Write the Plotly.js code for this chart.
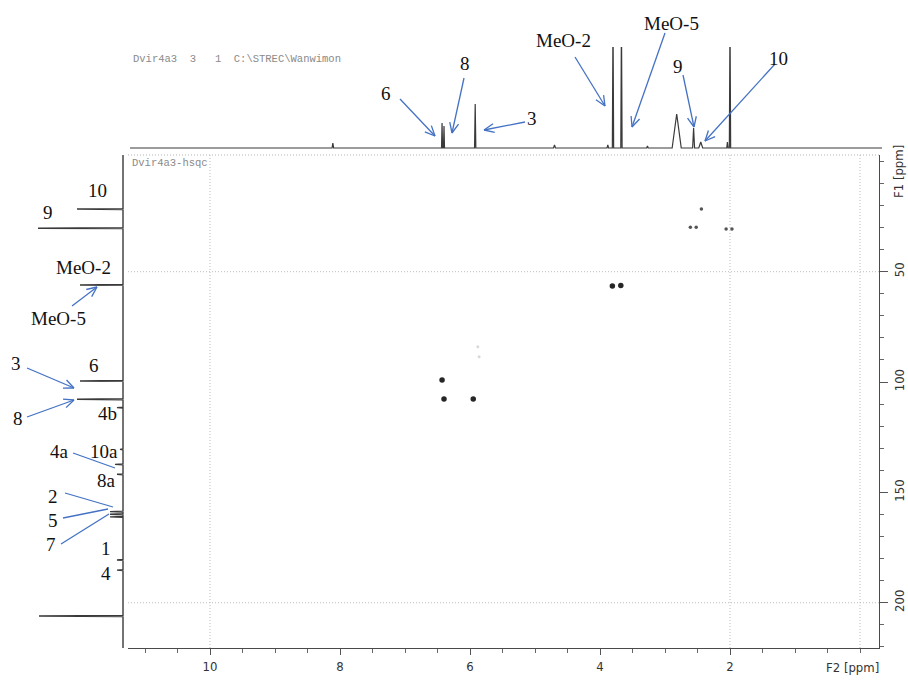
<!DOCTYPE html>
<html>
<head>
<meta charset="utf-8">
<script src="https://cdn.plot.ly/plotly-3.0.1.min.js"></script>
<style>
  html, body { margin: 0; padding: 0; background: #fff; }
  #chart { width: 908px; height: 691px; }
</style>
</head>
<body>
<div id="chart"></div>
<script>
// ---- 1H projection (F2 axis): shift [ppm], height, half width [ppm]
const protonShift  = [8.11, 6.43, 6.40, 5.92, 4.70, 3.88, 3.80, 3.67, 3.27, 2.82, 2.56, 2.45, 2.04, 2.00];
const protonHeight = [5, 25, 22, 44, 3, 3, 130, 130, 2, 34, 20, 6, 6, 130];
const protonWidth  = [0.012, 0.008, 0.008, 0.01, 0.015, 0.012, 0.01, 0.01, 0.012, 0.07, 0.015, 0.03, 0.01, 0.01];

// ---- 13C projection (F1 axis): shift [ppm], height
const carbonShift  = [21.6, 30.3, 56.0, 99.5, 107.8, 111.6, 130.5, 137.3, 141.8, 158.7, 159.9, 161.1, 180.6, 185.2, 206.0];
const carbonHeight = [46, 85, 43, 43, 46, 6, 3, 8, 6, 13, 13, 13, 6, 6, 84];

// ---- HSQC correlations (F2 = 1H, F1 = 13C)
const hsqcRoundH = [3.81, 3.68, 6.43, 6.40, 5.95];
const hsqcRoundC = [56.5, 56.2, 99.1, 107.7, 107.7];
const hsqcSmallH = [2.44, 2.61, 2.52, 2.06, 1.97];
const hsqcSmallC = [21.6, 29.9, 29.9, 30.7, 30.7];
const hsqcFaintH = [5.88, 5.86];
const hsqcFaintC = [84.0, 88.5];

// ---- axis ticks and dotted grid positions
const f2Ticks = [10, 8, 6, 4, 2];
const f1Ticks = [50, 100, 150, 200];
const f2Grid = [10, 2, 0];
const f1Grid = [50, 200];

// ---- page geometry helpers (pixel -> paper)
const W = 908, H = 691;
const px = x => x / W;
const py = y => 1 - y / H;
// F2 scale: 10 ppm at x=210, 65 px per ppm
const f2At = x => 10 - (x - 210) / 65;
// F1 scale: 50 ppm at y=271.7, 2.207 px per ppm
const f1At = y => 50 + (y - 271.7) / 2.207;

function buildSpectrum(shifts, heights, widths, lo, hi) {
  const idx = shifts.map((_, i) => i).sort((a, b) => shifts[a] - shifts[b]);
  const pos = [lo], inten = [0];
  idx.forEach(i => {
    const w = Array.isArray(widths) ? widths[i] : widths;
    pos.push(shifts[i] - w, shifts[i], shifts[i] + w);
    inten.push(0, heights[i], 0);
  });
  pos.push(hi); inten.push(0);
  return { pos, inten };
}

const xRange = [f2At(128), f2At(879)];
const topRange = [f2At(130), f2At(882)];
const protonLine = buildSpectrum(protonShift, protonHeight, protonWidth, topRange[1], topRange[0]);
const yRange = [f1At(648), f1At(155)];
const carbonLine = buildSpectrum(carbonShift, carbonHeight, 0.2, yRange[1], yRange[0]);

const specColor = '#3a3a3a';
const traces = [
  { type: 'scatter', mode: 'lines', x: protonLine.pos, y: protonLine.inten,
    xaxis: 'x2', yaxis: 'y2', line: { color: specColor, width: 1.2 }, hoverinfo: 'skip' },
  { type: 'scatter', mode: 'lines', x: carbonLine.inten, y: carbonLine.pos,
    xaxis: 'x3', yaxis: 'y3', line: { color: specColor, width: 1.4 }, hoverinfo: 'skip' },
  { type: 'scatter', mode: 'markers', x: hsqcRoundH, y: hsqcRoundC, xaxis: 'x', yaxis: 'y',
    marker: { color: '#262626', size: 5.5, symbol: 'circle' }, hoverinfo: 'skip' },
  { type: 'scatter', mode: 'markers', x: hsqcSmallH, y: hsqcSmallC, xaxis: 'x', yaxis: 'y',
    marker: { color: '#555', size: 3.5, symbol: 'circle' }, hoverinfo: 'skip' },
  { type: 'scatter', mode: 'markers', x: hsqcFaintH, y: hsqcFaintC, xaxis: 'x', yaxis: 'y',
    marker: { color: '#d8d8d8', size: 3, symbol: 'circle' }, hoverinfo: 'skip' }
];

// ---- annotation graphics
const blue = 'rgb(68,114,196)';
const gridColor = '#bdbdbd';
function seg(x0, y0, x1, y1, color, width, dash) {
  return { type: 'line', xref: 'paper', yref: 'paper', layer: 'above',
    x0: px(x0), y0: py(y0), x1: px(x1), y1: py(y1),
    line: { color: color, width: width, dash: dash || 'solid' } };
}
function arrow(tx, ty, hx, hy) {
  const ang = Math.atan2(hy - ty, hx - tx), L = 11, a = 0.42;
  return [
    seg(tx, ty, hx, hy, blue, 1.3),
    seg(hx, hy, hx - L * Math.cos(ang - a), hy - L * Math.sin(ang - a), blue, 1.3),
    seg(hx, hy, hx - L * Math.cos(ang + a), hy - L * Math.sin(ang + a), blue, 1.3)
  ];
}
const gridShapes = [].concat(
  f2Grid.map(v => ({ type: 'line', xref: 'x', yref: 'paper', layer: 'below',
    x0: v, x1: v, y0: py(648), y1: py(155), line: { color: gridColor, width: 1, dash: '1px,2px' } })),
  f1Grid.map(v => ({ type: 'line', xref: 'paper', yref: 'y', layer: 'below',
    x0: px(128), x1: px(879), y0: v, y1: v, line: { color: gridColor, width: 1, dash: '1px,2px' } }))
);
const shapes = [].concat(
  gridShapes,
  // dotted upper frame of the 2D panel
  [seg(128, 155, 879, 155, '#b5b5b5', 1, '1px,2px')],
  arrow(400, 99, 435, 136),
  arrow(464, 78, 452, 133),
  arrow(525, 122, 484, 130),
  arrow(575, 57, 605, 106),
  arrow(665, 33, 632, 127),
  arrow(683, 75, 694, 127),
  arrow(775, 64, 705, 141),
  arrow(72, 306, 97, 287),
  arrow(27, 368, 74, 388),
  arrow(27, 417, 74, 400),
  [seg(73, 453, 115, 468, blue, 1.3),
   seg(65, 493, 113, 507, blue, 1.3),
   seg(63, 518, 108, 509, blue, 1.3),
   seg(61, 544, 109, 514, blue, 1.3)]
);

const serif = 'Liberation Serif, Times New Roman, serif';
function label(text, x, y, size) {
  return { text: text, xref: 'paper', yref: 'paper', x: px(x), y: py(y),
    xanchor: 'center', yanchor: 'middle', showarrow: false,
    font: { family: serif, size: size || 19, color: '#111' } };
}
const narrow = 'Liberation Sans Narrow, DejaVu Sans Condensed, Arial Narrow, sans-serif';
const mono = 'Liberation Mono, DejaVu Sans Mono, Courier New, monospace';
const annotations = [
  label('6', 386, 93), label('8', 465, 63), label('3', 532, 119),
  label('MeO-2', 563, 40), label('MeO-5', 671, 23), label('9', 678, 67), label('10', 778, 58),
  label('10', 97, 190), label('9', 48, 212), label('MeO-2', 83, 267), label('MeO-5', 58, 318),
  label('6', 94, 365), label('3', 16, 363), label('8', 18, 418), label('4b', 107, 413),
  label('10a', 104, 451), label('4a', 59, 451), label('8a', 106, 480),
  label('2', 53, 496), label('5', 53, 520), label('7', 51, 544),
  label('1', 106, 548), label('4', 106, 573),
  { text: 'Dvir4a3\u00a0\u00a03\u00a0\u00a0\u00a01\u00a0\u00a0C:\\STREC\\Wanwimon',
    xref: 'paper', yref: 'paper', x: px(131), y: py(59), xanchor: 'left', yanchor: 'middle',
    showarrow: false, font: { family: mono, size: 10.5, color: '#8a8a8a' } },
  { text: 'Dvir4a3-hsqc', xref: 'paper', yref: 'paper', x: px(130), y: py(163),
    xanchor: 'left', yanchor: 'middle', showarrow: false,
    font: { family: mono, size: 10.5, color: '#8a8a8a' } },
  { text: 'F2 [ppm]', xref: 'paper', yref: 'paper', x: px(852), y: py(667),
    xanchor: 'center', yanchor: 'middle', showarrow: false,
    font: { family: narrow, size: 13, color: '#333' } },
  { text: 'F1 [ppm]', xref: 'paper', yref: 'paper', x: px(899), y: py(172), textangle: -90,
    xanchor: 'center', yanchor: 'middle', showarrow: false,
    font: { family: narrow, size: 13, color: '#333' } }
];

const tickFont = { family: narrow, size: 13, color: '#333' };
const layout = {
  width: W, height: H,
  margin: { l: 0, r: 0, t: 0, b: 0 },
  paper_bgcolor: '#fff', plot_bgcolor: 'rgba(0,0,0,0)',
  showlegend: false,
  xaxis: {
    domain: [px(128), px(879)], range: xRange, anchor: 'y',
    tickmode: 'array', tickvals: f2Ticks, ticktext: f2Ticks.map(String),
    ticks: 'outside', ticklen: 6, tickcolor: '#555', tickwidth: 1,
    minor: { tickmode: 'linear', tick0: 0, dtick: 0.5, ticks: 'outside', ticklen: 4, tickcolor: '#666', showgrid: false },
    showline: true, linecolor: '#4a4a4a', linewidth: 1.2,
    showgrid: false, zeroline: false, tickfont: tickFont
  },
  yaxis: {
    domain: [py(648), py(155)], range: yRange, anchor: 'x', side: 'right',
    tickmode: 'array', tickvals: f1Ticks, ticktext: f1Ticks.map(String), tickangle: -90,
    ticks: 'outside', ticklen: 8, tickcolor: '#555', tickwidth: 1,
    minor: { tickmode: 'linear', tick0: 0, dtick: 10, ticks: 'outside', ticklen: 4, tickcolor: '#666', showgrid: false },
    showline: true, linecolor: '#4a4a4a', linewidth: 1.2,
    showgrid: false, zeroline: false, tickfont: tickFont
  },
  xaxis2: { domain: [px(130), px(882)], range: topRange, anchor: 'y2', visible: false, fixedrange: true },
  yaxis2: { domain: [py(149), py(47)], range: [-1, 101], anchor: 'x2', visible: false, fixedrange: true },
  xaxis3: { domain: [px(30), px(124)], range: [93, -1], anchor: 'y3', visible: false, fixedrange: true },
  yaxis3: { domain: [py(648), py(155)], range: yRange, anchor: 'x3', visible: false, fixedrange: true },
  shapes: shapes,
  annotations: annotations
};

Plotly.newPlot('chart', traces, layout, { displayModeBar: false, staticPlot: true });
</script>
</body>
</html>
